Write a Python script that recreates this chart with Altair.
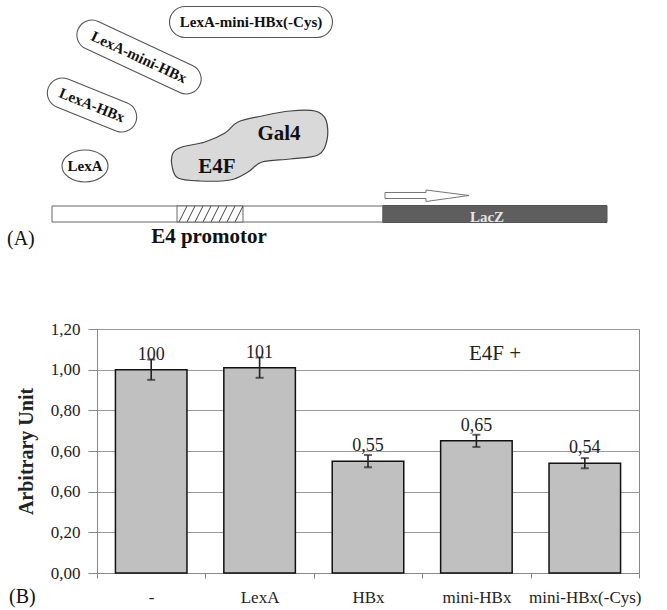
import altair as alt
import pandas as pd

# ---------------- panel (B): reporter activity ----------------
conditions = ["-", "LexA", "HBx", "mini-HBx", "mini-HBx(-Cys)"]
activity = [1.00, 1.01, 0.55, 0.65, 0.54]
error = [0.05, 0.05, 0.03, 0.03, 0.025]
value_labels = ["100", "101", "0,55", "0,65", "0,54"]
y_tick_labels = ["0,00", "0,20", "0,60", "0,60", "0,80", "1,00", "1,20"]

SERIF = "'Liberation Serif', 'Times New Roman', Times, serif"
PLOT_W, PLOT_H = 542, 244
PAD = {"left": 97, "top": 329, "right": 28, "bottom": 37}

bars_df = pd.DataFrame({
    "condition": conditions,
    "activity": activity,
    "lo": [a - e for a, e in zip(activity, error)],
    "hi": [a + e for a, e in zip(activity, error)],
    "label": value_labels,
})

x_enc = alt.X(
    "condition:N",
    sort=conditions,
    scale=alt.Scale(domain=conditions, paddingInner=0, paddingOuter=0),
    axis=alt.Axis(
        title=None, labelAngle=0, tickBand="extent", tickSize=5,
        labelPadding=11, labelFontSize=17, labelFont=SERIF, labelColor="#222",
        domainColor="#888", tickColor="#888",
    ),
)
y_scale = alt.Scale(domain=[0, 1.2], nice=False)
label_expr = "[" + ",".join(f"'{t}'" for t in y_tick_labels) + "][round(datum.value * 5)]"

base = alt.Chart(bars_df)

bars = base.mark_bar(
    width=alt.RelativeBandSize(0.66), fill="#c0c0c0", stroke="#111", strokeWidth=1.5
).encode(
    x=x_enc,
    y=alt.Y(
        "activity:Q", scale=y_scale,
        axis=alt.Axis(
            title="Arbitrary Unit", values=[0, 0.2, 0.4, 0.6, 0.8, 1.0, 1.2],
            labelExpr=label_expr, labelFontSize=17, labelFont=SERIF,
            labelColor="#222", tickSize=9, labelPadding=8, domainColor="#888",
            tickColor="#888", gridColor="#9a9a9a", titleFont=SERIF,
            titleFontSize=20, titleFontWeight="bold", titleColor="#222",
            titlePadding=14,
        ),
    ),
)

err_rule = base.mark_rule(color="#222", strokeWidth=1.6).encode(
    x=alt.X("condition:N", sort=conditions), y="lo:Q", y2="hi:Q"
)
cap_lo = base.mark_tick(color="#222", size=8, thickness=2).encode(
    x=alt.X("condition:N", sort=conditions), y="lo:Q"
)
cap_hi = base.mark_tick(color="#222", size=8, thickness=2).encode(
    x=alt.X("condition:N", sort=conditions), y="hi:Q"
)
values_txt = base.mark_text(
    dy=-10, baseline="alphabetic", font=SERIF, fontSize=18, color="#222"
).encode(x=alt.X("condition:N", sort=conditions), y="activity:Q", text="label:N")

e4f_note = alt.Chart(pd.DataFrame({"t": ["E4F +"]})).mark_text(
    font=SERIF, fontSize=21, color="#222", baseline="middle"
).encode(x=alt.value(398), y=alt.value(25), text="t:N")

panel_b = alt.layer(bars, err_rule, cap_lo, cap_hi, values_txt, e4f_note)

# ---------------- panel (A): construct diagram, page-pixel coordinates ----------------
xs = alt.Scale(domain=[PAD["left"], PAD["left"] + PLOT_W], nice=False, zero=False)
ys = alt.Scale(domain=[PAD["top"], PAD["top"] + PLOT_H], nice=False, zero=False, reverse=True)


def px(col):
    return alt.X(f"{col}:Q", scale=xs, axis=None)


def py(col):
    return alt.Y(f"{col}:Q", scale=ys, axis=None)


def fmt(v):
    return f"{v:.4f}"


def stadium_path(length, thick):
    b = thick / length
    return (f"M{fmt(-1 + b)},{fmt(-b)}L{fmt(1 - b)},{fmt(-b)}"
            f"A{fmt(b)},{fmt(b)} 0 0 1 {fmt(1 - b)},{fmt(b)}"
            f"L{fmt(-1 + b)},{fmt(b)}"
            f"A{fmt(b)},{fmt(b)} 0 0 1 {fmt(-1 + b)},{fmt(-b)}Z")


def ellipse_path(rx, ry):
    b = ry / rx
    return f"M-1,0A1,{fmt(b)} 0 1 0 1,0A1,{fmt(b)} 0 1 0 -1,0Z"


def symbol_from_points(pts, smooth):
    xs_ = [p[0] for p in pts]
    ys_ = [p[1] for p in pts]
    cx = (min(xs_) + max(xs_)) / 2
    cy = (min(ys_) + max(ys_)) / 2
    s = max(max(xs_) - min(xs_), max(ys_) - min(ys_)) / 2
    q = [((x - cx) / s, (y - cy) / s) for x, y in pts]
    n = len(q)
    if smooth:
        d = f"M{fmt(q[0][0])},{fmt(q[0][1])}"
        for i in range(n):
            p0, p1, p2, p3 = q[i - 1], q[i], q[(i + 1) % n], q[(i + 2) % n]
            c1 = (p1[0] + (p2[0] - p0[0]) / 6, p1[1] + (p2[1] - p0[1]) / 6)
            c2 = (p2[0] - (p3[0] - p1[0]) / 6, p2[1] - (p3[1] - p1[1]) / 6)
            d += f"C{fmt(c1[0])},{fmt(c1[1])} {fmt(c2[0])},{fmt(c2[1])} {fmt(p2[0])},{fmt(p2[1])}"
        d += "Z"
    else:
        d = "M" + "L".join(f"{fmt(x)},{fmt(y)}" for x, y in q) + "Z"
    return d, cx, cy, (2 * s) ** 2


def symbol_layer(path, cx, cy, size, angle=0, fill="white", stroke="#555", sw=1.1):
    return alt.Chart(pd.DataFrame({"x": [cx], "y": [cy]})).mark_point(
        shape=path, size=size, angle=angle, filled=True, fill=fill,
        stroke=stroke, strokeWidth=sw, opacity=1,
    ).encode(x=px("x"), y=py("y"))


def text_layer(text, x, y, size, bold=True, angle=0, align="center",
               baseline="middle", color="#111"):
    return alt.Chart(pd.DataFrame({"x": [x], "y": [y], "t": [text]})).mark_text(
        font=SERIF, fontSize=size, fontWeight="bold" if bold else "normal",
        angle=angle, align=align, baseline=baseline, color=color,
    ).encode(x=px("x"), y=py("y"), text="t:N")


def rect_layer(x0, x1, y0, y1, fill, stroke, sw=1.0):
    return alt.Chart(pd.DataFrame({"x": [x0], "x2": [x1], "y": [y0], "y2": [y1]})).mark_rect(
        fill=fill, stroke=stroke, strokeWidth=sw
    ).encode(x=px("x"), x2="x2:Q", y=py("y"), y2="y2:Q")


diagram = []

# fusion proteins drawn as rounded capsules
pills = [
    ("LexA-mini-HBx(-Cys)", 251, 22, 163, 31, 0),
    ("LexA-mini-HBx", 139, 57, 134, 30, 25),
    ("LexA-HBx", 92, 105, 94, 30, 22),
]
for label, cx, cy, length, thick, ang in pills:
    diagram.append(symbol_layer(stadium_path(length, thick), cx, cy, length ** 2, angle=ang))
    diagram.append(text_layer(label, cx, cy, 15, angle=ang))

diagram.append(symbol_layer(ellipse_path(23, 16), 85, 166, 46 ** 2))
diagram.append(text_layer("LexA", 85, 166, 15))

# Gal4 / E4F fusion blob
blob = [(182, 147), (205, 142), (225, 133), (238, 122), (262, 116), (290, 111),
        (315, 111), (326, 120), (327, 140), (318, 155), (290, 159), (262, 162),
        (248, 172), (230, 180), (200, 181), (178, 178), (172, 166), (173, 153)]
bpath, bcx, bcy, bsize = symbol_from_points(blob, smooth=True)
diagram.append(symbol_layer(bpath, bcx, bcy, bsize, fill="#d9d9d9", stroke="#444", sw=1.2))
diagram.append(text_layer("Gal4", 279, 140, 21, baseline="alphabetic"))
diagram.append(text_layer("E4F", 217, 173, 21, baseline="alphabetic"))

# transcription arrow
arrow = [(385, 192.5), (426, 192.5), (426, 190), (469, 195.5), (426, 201.5),
         (426, 198.5), (385, 198.5)]
apath, acx, acy, asize = symbol_from_points(arrow, smooth=False)
diagram.append(symbol_layer(apath, acx, acy, asize, fill="white", stroke="#777", sw=1.0))

# reporter construct
diagram.append(rect_layer(52, 383, 206, 222, "white", "#666"))
diagram.append(rect_layer(383, 607, 205.5, 222.5, "#5e5e5e", "#555"))
diagram.append(rect_layer(177, 243, 206, 222, "white", "#666"))
hatch = pd.DataFrame({
    "x": [179 + 8 * i for i in range(8)],
    "x2": [187 + 8 * i for i in range(8)],
    "y": [222] * 8,
    "y2": [206] * 8,
})
hatch = hatch[hatch["x2"] <= 243]
diagram.append(alt.Chart(hatch).mark_rule(color="#444", strokeWidth=1).encode(
    x=px("x"), x2="x2:Q", y=py("y"), y2="y2:Q"))
diagram.append(text_layer("LacZ", 487, 222, 15, color="#e6e6e6", baseline="alphabetic"))
diagram.append(text_layer("E4 promotor", 209, 243, 21, baseline="alphabetic"))

# panel letters
diagram.append(text_layer("(A)", 7, 245, 20, bold=False, align="left", baseline="alphabetic"))
diagram.append(text_layer("(B)", 9, 603, 20, bold=False, align="left", baseline="alphabetic"))

panel_a = alt.layer(*diagram)

chart = alt.layer(panel_b, panel_a).resolve_scale(
    x="independent", y="independent"
).properties(
    width=PLOT_W, height=PLOT_H,
    autosize=alt.AutoSizeParams(type="none"),
    padding=PAD,
    background="white",
).configure_view(stroke="#888", strokeWidth=1).configure_axis(grid=False).configure_axisY(grid=True)

chart.save("out.html", embed_options={"renderer": "svg", "actions": False})
